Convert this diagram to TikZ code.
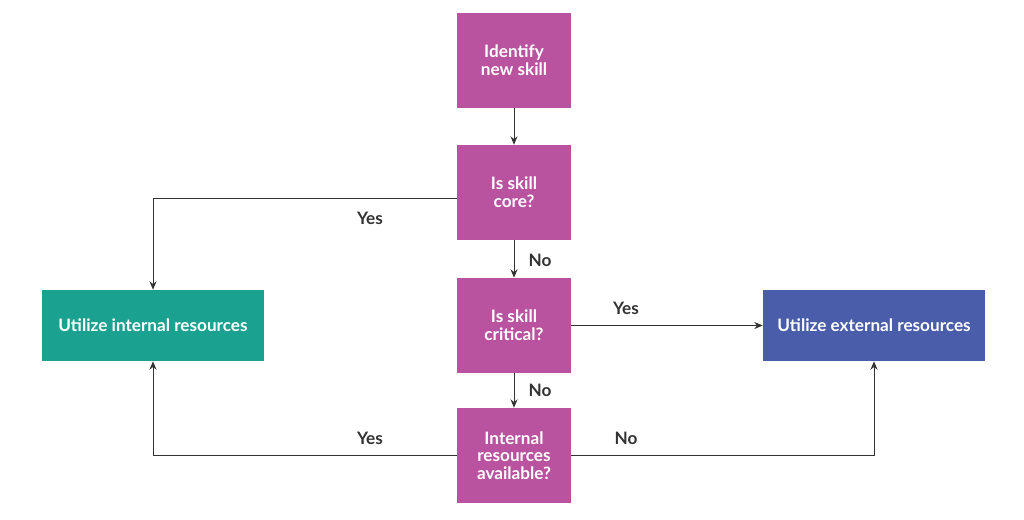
\documentclass[tikz,border=0pt]{standalone}
\usepackage{fontspec}
\setmainfont{Lato}
\usepackage{tikz}
\usetikzlibrary{positioning,arrows.meta}
\definecolor{skillpink}{HTML}{B9529F}
\definecolor{internalteal}{HTML}{1AA190}
\definecolor{externalblue}{HTML}{4A5DAA}
\definecolor{linegray}{HTML}{333333}
\begin{document}
\begin{tikzpicture}[step box/.style={rectangle,fill=skillpink,text=white,font=\bfseries\fontsize{12.2}{12.6}\selectfont,align=center,minimum width=2.85cm,minimum height=2.375cm,inner sep=2pt},
    result box/.style={rectangle,text=white,font=\bfseries\fontsize{12.2}{12.6}\selectfont,minimum width=5.55cm,minimum height=1.775cm},
    answer/.style={text=linegray,font=\bfseries\fontsize{12.2}{12.6}\selectfont},
    flow/.style={-{Stealth[length=6pt,width=5pt]},linegray,line width=0.7pt}]
    \useasboundingbox (0,0) rectangle (25.6,-12.975);
    \node (identify) at (12.85,-1.5) [step box] {Identify\\new skill};
    \node (core) at (12.85,-4.8125) [step box] {Is skill\\core?};
    \node (critical) at (12.85,-8.1375) [step box] {Is skill\\critical?};
    \node (avail) at (12.85,-11.3875) [step box] {Internal\\resources\\available?};
    \node (internal) at (3.825,-8.1375) [result box,fill=internalteal] {Utilize internal resources};
    \node (external) at (21.85,-8.1375) [result box,fill=externalblue] {Utilize external resources};
    \draw [flow] (identify) -- (core);
    \draw [flow] ([yshift=-0.15cm]core.west) -| (internal.north);
    \draw [flow] (core) -- (critical);
    \draw [flow] (critical) -- (external);
    \draw [flow] (critical) -- (avail);
    \draw [flow] (avail.west) -| (internal.south);
    \draw [flow] (avail.east) -| (external.south);
    \node (yescore) at (9.25,-5.45) [answer] {Yes};
    \node (nocore) at (13.5,-6.5) [answer] {No};
    \node (yescrit) at (15.65,-7.7) [answer] {Yes};
    \node (nocrit) at (13.5,-9.75) [answer] {No};
    \node (yesavail) at (9.25,-10.95) [answer] {Yes};
    \node (noavail) at (15.65,-10.95) [answer] {No};
  \end{tikzpicture}
\end{document}
